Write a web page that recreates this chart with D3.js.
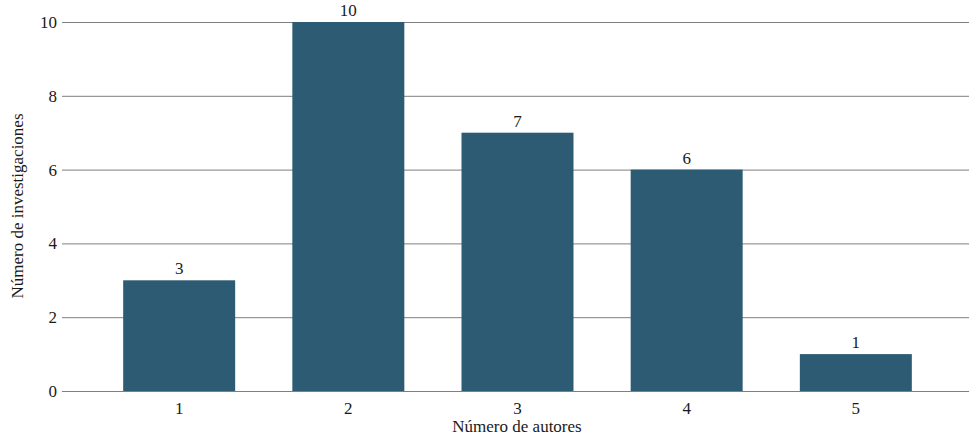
<!DOCTYPE html>
<html><head><meta charset="utf-8">
<script src="https://cdn.jsdelivr.net/npm/d3@7"></script>
<style>body{margin:0;background:#fff;} text{font-family:"Liberation Serif","DejaVu Serif",serif;fill:#1a1a1a;}</style>
</head><body>
<svg id="c" width="978" height="438"></svg>
<script>
const categories = ["1","2","3","4","5"];
const values = [3,10,7,6,1];
const yTicks = [0,2,4,6,8,10];

const svg = d3.select("#c");
const x = d3.scaleBand().domain(categories).range([66,969]).paddingInner(0.338).paddingOuter(0.338);
const y = d3.scaleLinear().domain([0,10]).range([391,22]);

// gridlines
svg.append("g").selectAll("line").data(yTicks).join("line")
  .attr("x1",62).attr("x2",969)
  .attr("y1",d=>y(d)+0.5).attr("y2",d=>y(d)+0.5)
  .attr("stroke","#7f7f7f").attr("stroke-width",1);

// y tick labels
svg.append("g").selectAll("text").data(yTicks).join("text")
  .attr("x",57).attr("y",d=>y(d)).attr("dy","0.35em")
  .attr("text-anchor","end").attr("font-size",17).text(d=>d);

// bars
svg.append("g").selectAll("rect").data(values).join("rect")
  .attr("x",(d,i)=>x(categories[i])).attr("width",x.bandwidth())
  .attr("y",d=>y(d)).attr("height",d=>y(0)-y(d))
  .attr("fill","#2d5b73");

// value labels
svg.append("g").selectAll("text").data(values).join("text")
  .attr("x",(d,i)=>x(categories[i])+x.bandwidth()/2).attr("y",d=>y(d)-6)
  .attr("text-anchor","middle").attr("font-size",17).text(d=>d);

// x tick labels
svg.append("g").selectAll("text").data(categories).join("text")
  .attr("x",d=>x(d)+x.bandwidth()/2).attr("y",414)
  .attr("text-anchor","middle").attr("font-size",17).text(d=>d);

// axis titles
svg.append("text").attr("x",517).attr("y",432).attr("text-anchor","middle")
  .attr("font-size",17).text("Número de autores");
svg.append("text").attr("transform","translate(23,206) rotate(-90)")
  .attr("text-anchor","middle").attr("font-size",17).text("Número de investigaciones");
</script>
</body></html>
